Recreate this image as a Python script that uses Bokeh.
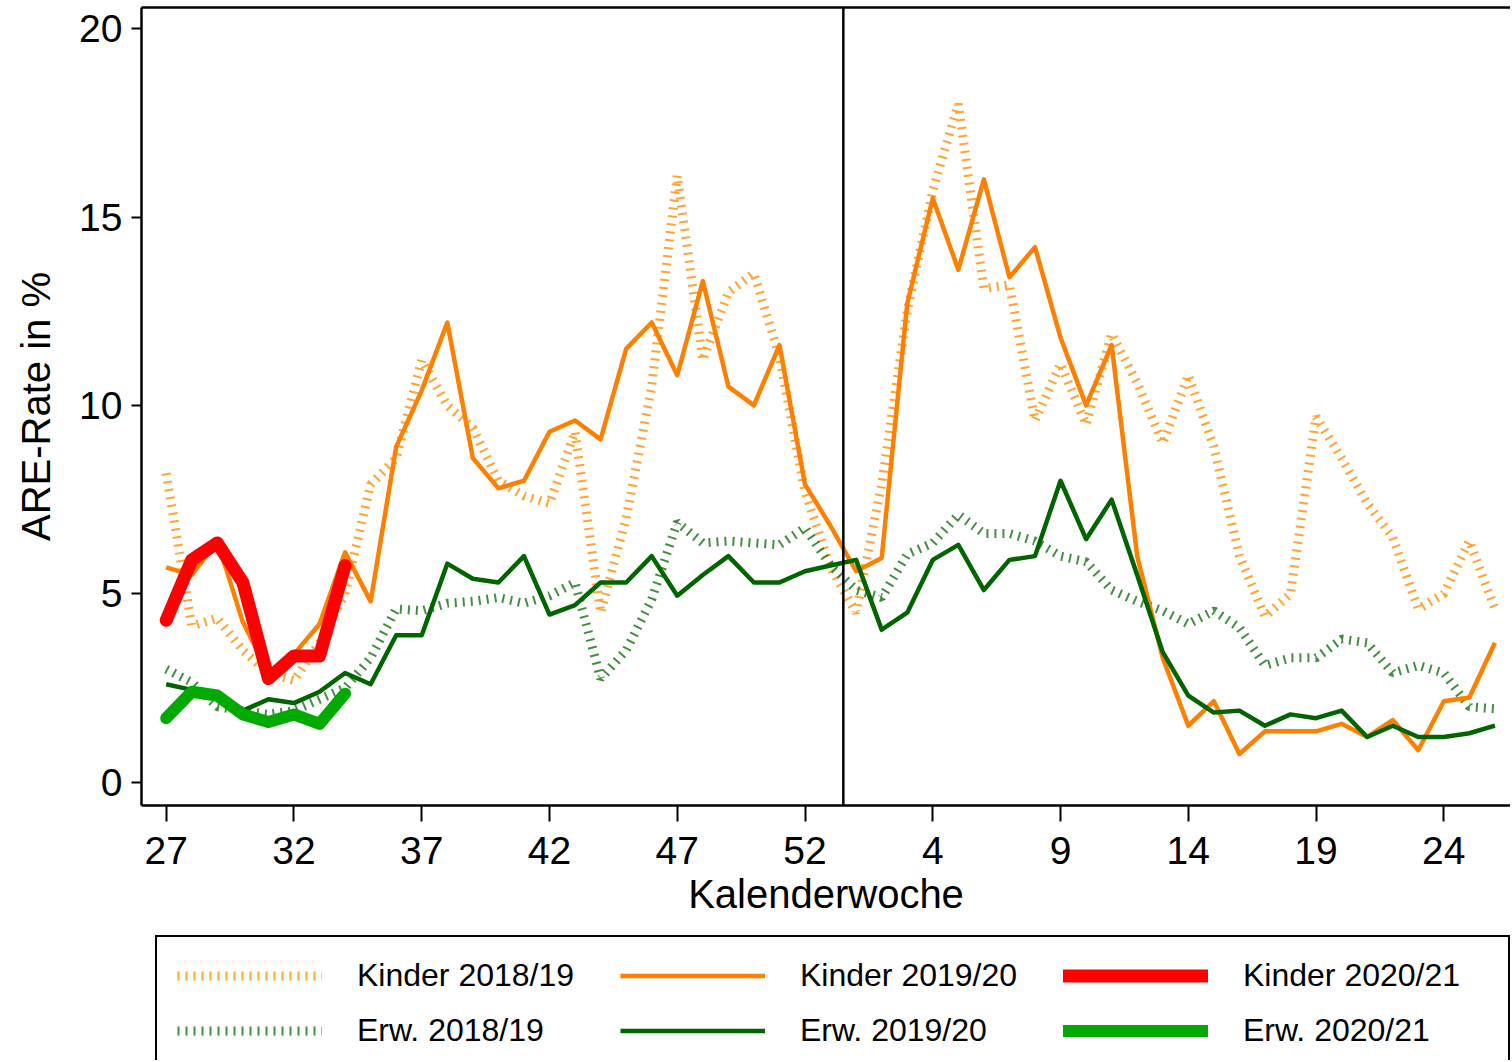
from bokeh.plotting import figure
from bokeh.layouts import column
from bokeh.models import FixedTicker, Span, Legend, LegendItem, LinearAxis, Range1d
from bokeh.embed import file_html
from bokeh.resources import INLINE

# Calendar weeks: season runs from week 27 to week 26 (incl. week 53)
weeks = list(range(27, 54)) + list(range(1, 27))
tick_weeks = [27, 32, 37, 42, 47, 52, 4, 9, 14, 19, 24]
y_ticks = [0, 5, 10, 15, 20]

kinder_1819 = [8.2, 4.15, 4.35, 3.5, 2.9, 2.7, 3.7, 5.0, 7.9, 8.6, 11.2, 10.0, 9.4, 8.0,
               7.6, 7.4, 9.3, 4.5, 7.0, 10.5, 16.1, 11.2, 13.0, 13.5, 11.3, 7.7, 5.7,
               4.5, 7.9, 12.5, 15.7, 18.0, 13.1, 13.2, 9.6, 11.1, 9.5, 11.9, 10.6, 9.0,
               10.8, 8.9, 6.0, 4.4, 5.0, 9.7, 8.6, 7.4, 6.5, 4.6, 5.0, 6.4, 4.6]
kinder_1920 = [5.7, 5.5, 6.4, 4.25, 2.9, 3.4, 4.2, 6.1, 4.8, 8.9, 10.4, 12.2, 8.6, 7.8,
               8.0, 9.3, 9.6, 9.1, 11.5, 12.2, 10.8, 13.3, 10.5, 10.0, 11.6, 7.9, 6.8,
               5.6, 5.95, 12.7, 15.5, 13.6, 16.0, 13.4, 14.2, 11.8, 10.0, 11.6, 6.0, 3.3,
               1.5, 2.15, 0.75, 1.35, 1.35, 1.35, 1.55, 1.2, 1.65, 0.85, 2.15, 2.25, 3.7]
kinder_2021 = [4.3, 5.9, 6.35, 5.3, 2.75, 3.35, 3.35, 5.75]
erw_1819 = [3.0, 2.65, 2.0, 1.9, 1.8, 1.9, 2.2, 2.5, 3.3, 4.6, 4.55, 4.75, 4.8, 4.9,
            4.75, 4.95, 5.3, 2.75, 3.5, 4.85, 6.9, 6.35, 6.4, 6.35, 6.3, 6.75, 5.75,
            5.1, 4.9, 6.05, 6.35, 7.1, 6.6, 6.6, 6.4, 6.0, 5.85, 5.1, 4.8, 4.55,
            4.2, 4.55, 4.1, 3.1, 3.3, 3.3, 3.8, 3.7, 2.9, 3.1, 2.9, 2.0, 1.95]
erw_1920 = [2.6, 2.45, 2.2, 1.9, 2.2, 2.1, 2.4, 2.9, 2.6, 3.9, 3.9, 5.8, 5.4, 5.3,
            6.0, 4.45, 4.7, 5.3, 5.3, 6.0, 4.95, 5.5, 6.0, 5.3, 5.3, 5.6, 5.75,
            5.9, 4.05, 4.5, 5.9, 6.3, 5.1, 5.9, 6.0, 8.0, 6.45, 7.5, 5.5, 3.45,
            2.3, 1.85, 1.9, 1.5, 1.8, 1.7, 1.9, 1.2, 1.5, 1.2, 1.2, 1.3, 1.5]
erw_2021 = [1.7, 2.4, 2.3, 1.8, 1.6, 1.8, 1.55, 2.35]

labels = ["Kinder 2018/19", "Kinder 2019/20", "Kinder 2020/21",
          "Erw. 2018/19", "Erw. 2019/20", "Erw. 2020/21"]

x = list(range(len(weeks)))
x_2021 = x[:len(kinder_2021)]
tick_pos = [weeks.index(w) for w in tick_weeks]

FONT = "Liberation Sans"

STYLES = {
    "k1819": dict(line_color="#FF8C00", line_alpha=0.8, line_width=9, line_dash="2 6", line_cap="butt"),
    "e1819": dict(line_color="#237A23", line_alpha=0.85, line_width=9, line_dash="2 6", line_cap="butt"),
    "k1920": dict(line_color="#FF8000", line_width=4.5, line_join="round"),
    "e1920": dict(line_color="#006400", line_width=4.5, line_join="round"),
    "k2021": dict(line_color="#FF0000", line_width=13, line_join="round", line_cap="round"),
    "e2021": dict(line_color="#00AA00", line_width=12, line_join="round", line_cap="round"),
}
SERIES = {
    "k1819": (x, kinder_1819), "k1920": (x, kinder_1920), "k2021": (x_2021, kinder_2021),
    "e1819": (x, erw_1819), "e1920": (x, erw_1920), "e2021": (x_2021, erw_2021),
}

p = figure(frame_width=1369, frame_height=798,
           x_range=Range1d(-0.967, 52.61), y_range=Range1d(-0.618, 20.56),
           output_backend="svg", toolbar_location=None,
           min_border_left=141, min_border_right=0, min_border_top=7, min_border_bottom=125)
p.outline_line_color = None
p.grid.visible = False
p.background_fill_color = "white"
p.border_fill_color = "white"

for ax in (p.xaxis[0], p.yaxis[0]):
    ax.axis_line_width = 2.5
    ax.axis_line_color = "black"
    ax.major_tick_line_width = 2
    ax.major_tick_line_color = "black"
    ax.major_tick_in = 0
    ax.minor_tick_in = 0
    ax.minor_tick_out = 0
    ax.major_label_text_font = FONT
    ax.major_label_text_font_size = "39px"
    ax.major_label_text_color = "black"
    ax.axis_label_text_font = FONT
    ax.axis_label_text_font_size = "40px"
    ax.axis_label_text_font_style = "normal"
    ax.axis_label_text_color = "black"

xa = p.xaxis[0]
xa.ticker = FixedTicker(ticks=tick_pos)
xa.major_label_overrides = {pos: str(w) for pos, w in zip(tick_pos, tick_weeks)}
xa.major_tick_out = 16
xa.major_label_standoff = 15
xa.axis_label = "Kalenderwoche"
xa.axis_label_standoff = 5

ya = p.yaxis[0]
ya.ticker = FixedTicker(ticks=y_ticks)
ya.major_tick_out = 10
ya.major_label_standoff = 9
ya.axis_label = "ARE-Rate in %"
ya.axis_label_standoff = 18

top = LinearAxis(ticker=FixedTicker(ticks=[]), major_label_text_font_size="0px",
                 major_tick_out=0, major_tick_in=0, minor_tick_out=0, minor_tick_in=0,
                 major_label_standoff=0, axis_line_width=2.5, axis_line_color="black")
p.add_layout(top, "above")

p.add_layout(Span(location=weeks.index(1) - 0.5, dimension="height",
                  line_color="black", line_width=2.5))

for key in ["k1819", "e1819", "k1920", "e1920", "k2021", "e2021"]:
    sx, sy = SERIES[key]
    p.line(sx, sy, **STYLES[key])

# Legend panel below the chart: a second figure whose view lies outside the data,
# so its copies of the series are not visible; it only carries the legend.
leg = figure(frame_width=1510, frame_height=130,
             x_range=Range1d(1000, 1001), y_range=Range1d(1000, 1001),
             output_backend="svg", toolbar_location=None,
             min_border_left=0, min_border_right=0, min_border_top=0, min_border_bottom=0)
leg.outline_line_color = None
leg.axis.visible = False
leg.grid.visible = False
leg.background_fill_color = "white"
leg.border_fill_color = "white"

order = ["k1819", "k1920", "k2021", "e1819", "e1920", "e2021"]
items = []
for key, lab in zip(order, labels):
    sx, sy = SERIES[key]
    r = leg.line(sx, sy, **STYLES[key])
    items.append(LegendItem(label=lab, renderers=[r]))

legend = Legend(items=items, orientation="horizontal", ncols=3, location=(155, -11))
legend.border_line_color = "black"
legend.border_line_alpha = 1.0
legend.border_line_width = 2
legend.background_fill_color = "white"
legend.background_fill_alpha = 1.0
legend.label_text_font = FONT
legend.label_text_font_size = "32px"
legend.label_text_color = "black"
legend.glyph_width = 145
legend.glyph_height = 35
legend.label_standoff = 35
legend.label_width = 245
legend.spacing = 18
legend.padding = 20
legend.margin = 0
leg.add_layout(legend, "center")

layout = column(p, leg, spacing=0)
open("out.html", "w").write(file_html(layout, INLINE))
